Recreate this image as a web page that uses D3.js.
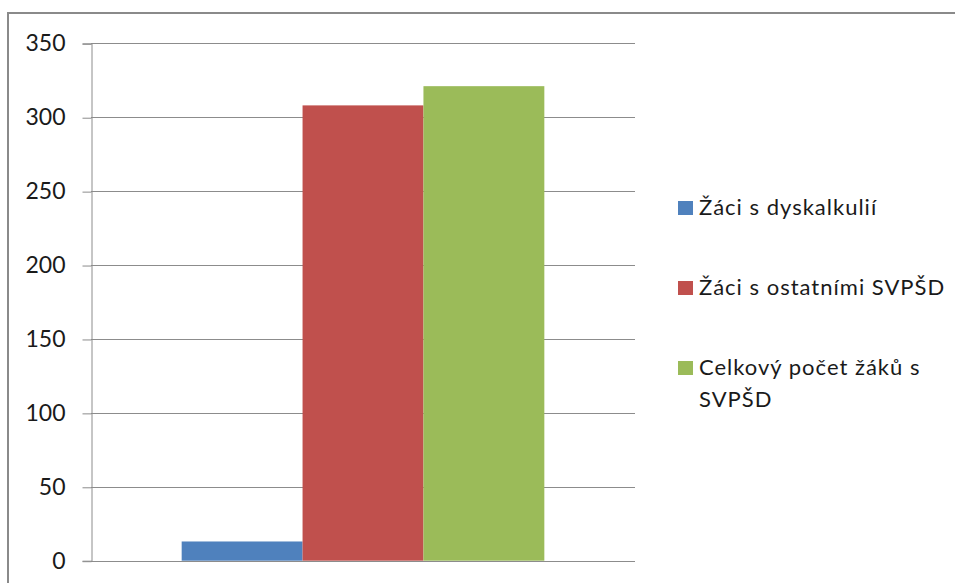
<!DOCTYPE html>
<html>
<head>
<meta charset="utf-8">
<script src="https://cdn.jsdelivr.net/npm/d3@7"></script>
<style>
  html, body { margin: 0; padding: 0; background: #fff; }
  svg { display: block; }
</style>
</head>
<body>
<svg id="chart" width="955" height="583"></svg>
<script>
// Series shown as one group of bars
const seriesNames = ["Žáci s dyskalkulií", "Žáci s ostatními SVPŠD", "Celkový počet žáků s SVPŠD"];
const seriesValues = [13, 308, 321];
const seriesColors = ["#4f81bd", "#c0504d", "#9bbb59"];
const yTicks = [0, 50, 100, 150, 200, 250, 300, 350];
const category = ["1"];

const svg = d3.select("#chart");
const fontFamily = "Lato, 'Open Sans', sans-serif";

// outer chart frame
svg.append("rect")
  .attr("x", 8).attr("y", 13)
  .attr("width", 960).attr("height", 600)
  .attr("fill", "none")
  .attr("stroke", "#8a8a8a")
  .attr("stroke-width", 2);

const plot = { left: 91, right: 635, top: 43.3, bottom: 560.7 };

const y = d3.scaleLinear().domain([0, 350]).range([plot.bottom, plot.top]);
const x0 = d3.scaleBand().domain(category).range([plot.left, plot.right]).paddingInner(0).paddingOuter(0.25);
const x1 = d3.scaleBand().domain(seriesNames).range([0, x0.bandwidth()]).padding(0);

// horizontal gridlines
svg.append("g")
  .selectAll("line")
  .data(yTicks)
  .join("line")
  .attr("x1", plot.left).attr("x2", plot.right)
  .attr("y1", d => Math.round(y(d)) + 0.5).attr("y2", d => Math.round(y(d)) + 0.5)
  .attr("stroke", "#8c8c8c").attr("stroke-width", 1);

// y axis with outward ticks
const yAxis = d3.axisLeft(y).tickValues(yTicks).tickSize(9).tickPadding(17).tickFormat(d3.format("d"));
const gy = svg.append("g")
  .attr("transform", `translate(${plot.left + 0.5},0)`)
  .call(yAxis);
gy.select(".domain").attr("stroke", "#8c8c8c");
gy.selectAll(".tick line").attr("stroke", "#8c8c8c")
  .attr("transform", "translate(0,0.5)");
gy.selectAll(".tick text")
  .attr("font-family", fontFamily)
  .attr("font-size", 23)
  .attr("fill", "#1a1a1a");

// bars
const group = svg.append("g")
  .selectAll("g")
  .data(category)
  .join("g")
  .attr("transform", d => `translate(${x0(d)},0)`);

group.selectAll("rect")
  .data(seriesNames.map((n, i) => ({ name: n, value: seriesValues[i], color: seriesColors[i] })))
  .join("rect")
  .attr("x", d => x1(d.name))
  .attr("width", x1.bandwidth())
  .attr("y", d => y(d.value))
  .attr("height", d => y(0) - y(d.value))
  .attr("fill", d => d.color);

// legend
const legendX = 678;
const legendRows = [
  { lines: [seriesNames[0]], y: 207 },
  { lines: [seriesNames[1]], y: 287 },
  { lines: ["Celkový počet žáků s", "SVPŠD"], y: 367 }
];
const legend = svg.append("g");
legendRows.forEach((row, i) => {
  legend.append("rect")
    .attr("x", legendX).attr("y", row.y - 6)
    .attr("width", 15).attr("height", 14)
    .attr("fill", seriesColors[i]);
  const t = legend.append("text")
    .attr("x", legendX + 21)
    .attr("y", row.y + 8)
    .attr("font-family", fontFamily)
    .attr("font-size", 22)
    .attr("letter-spacing", 1)
    .attr("fill", "#1a1a1a");
  row.lines.forEach((ln, j) => {
    t.append("tspan").attr("x", legendX + 21).attr("dy", j === 0 ? 0 : 32).text(ln);
  });
});
</script>
</body>
</html>
